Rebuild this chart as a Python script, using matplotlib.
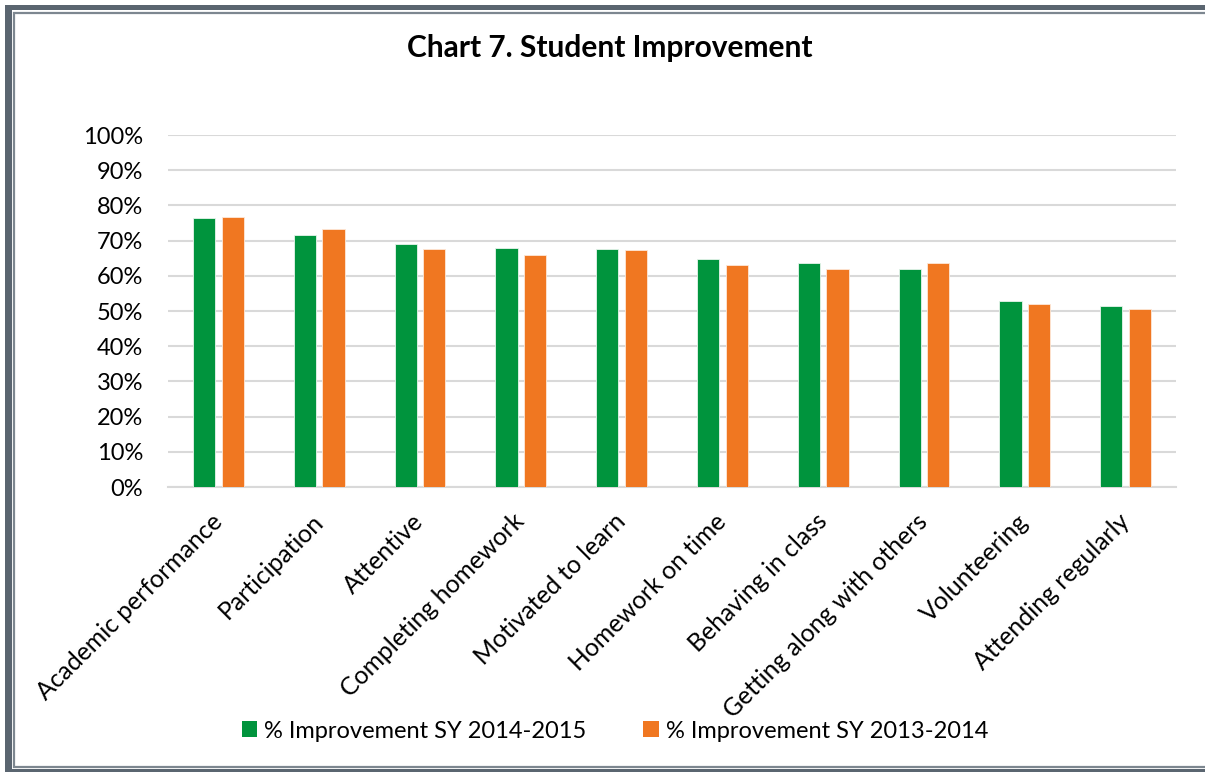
import matplotlib
matplotlib.use("Agg")
import matplotlib.pyplot as plt
from matplotlib.patches import Rectangle, Patch
import numpy as np

categories = ["Academic performance", "Participation", "Attentive", "Completing homework",
              "Motivated to learn", "Homework on time", "Behaving in class",
              "Getting along with others", "Volunteering", "Attending regularly"]
sy_2014_2015 = [76.3, 71.7, 68.9, 67.8, 67.5, 64.7, 63.7, 62.0, 52.8, 51.4]
sy_2013_2014 = [76.8, 73.3, 67.5, 65.9, 67.4, 63.1, 61.9, 63.7, 51.9, 50.5]
series_names = ["% Improvement SY 2014-2015", "% Improvement SY 2013-2014"]
y_ticks = [0, 10, 20, 30, 40, 50, 60, 70, 80, 90, 100]
y_tick_labels = [f"{t}%" for t in y_ticks]
title = "Chart 7. Student Improvement"

GREEN = "#00943d"
ORANGE = "#f07721"
DARK = "#5a6570"
LINEGRAY = "#7d8790"
GRID = "#d9d9d9"

plt.rcParams['font.family'] = ['Lato', 'DejaVu Sans']

W, H = 1205, 772
fig = plt.figure(figsize=(W / 100, H / 100), dpi=100)
fig.patch.set_facecolor("white")

def px_rect(x0, y0, x1, y1, **kw):
    return Rectangle((x0 / W, 1 - y1 / H), (x1 - x0) / W, (y1 - y0) / H,
                     transform=fig.transFigure, **kw)

fig.patches.append(px_rect(5, 5, W + 20, H + 20, facecolor=DARK, edgecolor="none", zorder=-10))
fig.patches.append(px_rect(12, 10, W + 20, 769, facecolor="white", edgecolor="none", zorder=-9))
fig.patches.append(px_rect(14, 12.5, W + 20, 767, facecolor="white", edgecolor=LINEGRAY,
                           linewidth=1.6, zorder=-8))

ax = fig.add_axes([168 / W, 1 - 487 / H, (1176 - 168) / W, (487 - 135) / H])
ax.set_facecolor("none")
ax.set_zorder(1)

x = np.arange(len(categories))
bw = 0.22
off = 0.1425
ax.bar(x - off, sy_2014_2015, width=bw, color=GREEN, edgecolor="#e8f5ec", linewidth=0.6,
       zorder=3, label=series_names[0])
ax.bar(x + off, sy_2013_2014, width=bw, color=ORANGE, edgecolor="#fde8d8", linewidth=0.6,
       zorder=3, label=series_names[1])

ax.set_xlim(-0.5, len(categories) - 0.5)
ax.set_ylim(0, 100)
ax.set_yticks(y_ticks)
ax.set_yticklabels(y_tick_labels, fontsize=17)
ax.yaxis.grid(True, color=GRID, linewidth=1.5, zorder=0)
ax.set_axisbelow(True)
for s in ["top", "right", "left"]:
    ax.spines[s].set_visible(False)
ax.spines["bottom"].set_color(GRID)
ax.spines["bottom"].set_linewidth(1.5)
ax.tick_params(axis="y", length=0, pad=18)
ax.tick_params(axis="x", length=0, pad=22)
ax.set_xticks(x)
ax.set_xticklabels(categories, fontsize=17.8, rotation=45, ha="right", va="center",
                   rotation_mode="anchor")

fig.text(610 / W, 1 - 48 / H, title, fontsize=21.5, fontweight="bold", ha="center", va="center")

handles = [Patch(facecolor=GREEN, edgecolor="none"), Patch(facecolor=ORANGE, edgecolor="none")]
fig.legend(handles, series_names, loc="center", bbox_to_anchor=(615 / W, 1 - 731 / H),
           ncol=2, frameon=False, fontsize=17, handlelength=0.65, handleheight=0.65,
           handletextpad=0.3, columnspacing=2.4)

fig.savefig("out.png", dpi=100)
